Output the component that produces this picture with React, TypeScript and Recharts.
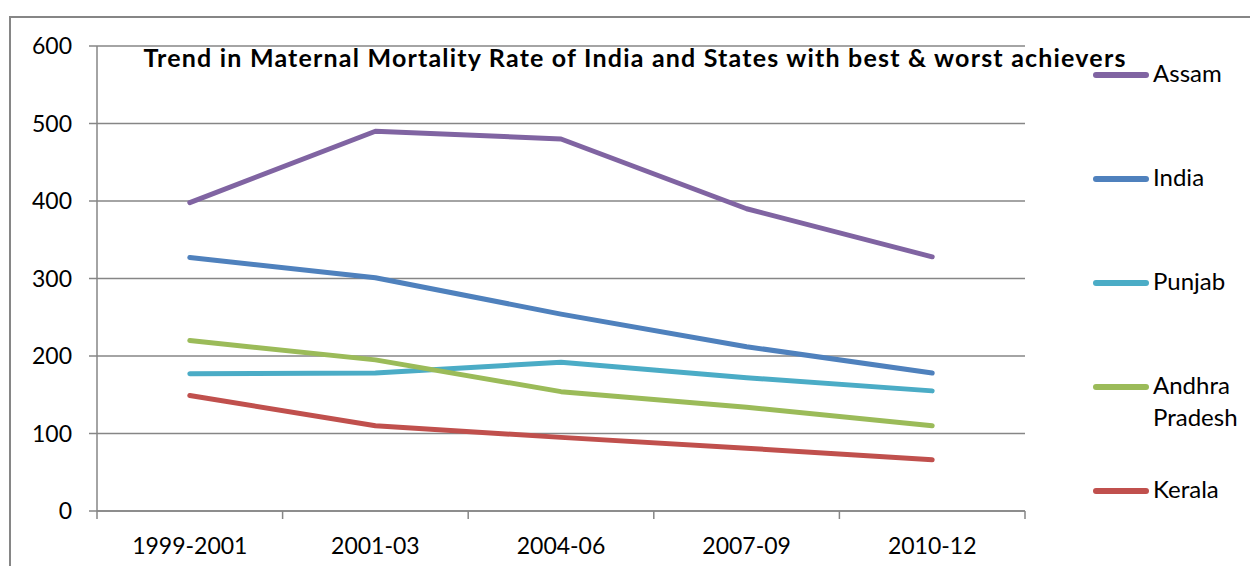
import { LineChart, Line, XAxis, YAxis, CartesianGrid } from 'recharts';

const periods = ['1999-2001', '2001-03', '2004-06', '2007-09', '2010-12'];
const assam = [398, 490, 480, 390, 328];
const india = [327, 301, 254, 212, 178];
const punjab = [177, 178, 192, 172, 155];
const andhraPradesh = [220, 195, 154, 134, 110];
const kerala = [149, 110, 95, 81, 66];
const yTicks = [0, 100, 200, 300, 400, 500, 600];

const series = [
  { key: 'Assam', values: assam, color: '#8064A2' },
  { key: 'India', values: india, color: '#4F81BD' },
  { key: 'Punjab', values: punjab, color: '#4BACC6' },
  { key: 'Andhra Pradesh', values: andhraPradesh, color: '#9BBB59' },
  { key: 'Kerala', values: kerala, color: '#C0504D' },
];

const data = periods.map((period, i) => {
  const row: Record<string, string | number> = { period };
  series.forEach((s) => {
    row[s.key] = s.values[i];
  });
  return row;
});

const FONT = 'Lato, "Open Sans", sans-serif';
const AXIS = '#868686';
const HALF = 92.8;

function XTick(props: any) {
  const { x, y, payload, index } = props;
  return (
    <g>
      <line x1={x - HALF} x2={x - HALF} y1={y} y2={y + 8} stroke={AXIS} strokeWidth={1.5} />
      {index === periods.length - 1 && (
        <line x1={x + HALF} x2={x + HALF} y1={y} y2={y + 8} stroke={AXIS} strokeWidth={1.5} />
      )}
      <text x={x} y={y + 43} textAnchor="middle" fontSize={23} fontFamily={FONT} fill="#000">
        {payload.value}
      </text>
    </g>
  );
}

function ChartLegend() {
  return (
    <div style={{ position: 'absolute', left: 1093, top: 64, width: 157, height: 480 }}>
      {series.map((s, i) => (
        <div
          key={s.key}
          style={{
            position: 'absolute',
            left: 0,
            top: i * 104,
            display: 'flex',
            alignItems: 'flex-start',
          }}
        >
          <div
            style={{
              width: 56,
              height: 6,
              borderRadius: 3,
              background: s.color,
              marginTop: 8,
            }}
          />
          <div
            style={{
              marginLeft: 4,
              width: 95,
              fontSize: 24,
              lineHeight: '32px',
              marginTop: -7,
              fontFamily: FONT,
              color: '#000',
            }}
          >
            {s.key}
          </div>
        </div>
      ))}
    </div>
  );
}

export default function App() {
  return (
    <div style={{ position: 'absolute', left: 0, top: 0, width: 1250, height: 566, overflow: 'hidden', background: '#fff' }}>
      <div
        style={{
          position: 'absolute',
          left: 9,
          top: 16,
          width: 1400,
          height: 700,
          border: `2px solid ${AXIS}`,
        }}
      />
      <div style={{ position: 'absolute', left: 0, top: 0 }}>
        <LineChart width={1250} height={566} data={data} margin={{ top: 46, right: 225, bottom: 0, left: 0 }}>
          <CartesianGrid vertical={false} stroke={AXIS} strokeWidth={1.5} />
          <XAxis
            dataKey="period"
            padding={{ left: HALF, right: HALF }}
            axisLine={{ stroke: AXIS, strokeWidth: 1.5 }}
            tickLine={false}
            tickSize={0}
            tickMargin={0}
            tick={<XTick />}
            interval={0}
            height={55}
          />
          <YAxis
            domain={[0, 600]}
            ticks={yTicks}
            width={97}
            axisLine={{ stroke: AXIS, strokeWidth: 1.5 }}
            tickLine={{ stroke: AXIS, strokeWidth: 1.5 }}
            tickSize={8}
            tickMargin={17}
            tick={{ fontSize: 23, fontFamily: FONT, fill: '#000' }}
          />
          {series.map((s) => (
            <Line
              key={s.key}
              type="linear"
              dataKey={s.key}
              stroke={s.color}
              strokeWidth={5}
              strokeLinecap="round"
              strokeLinejoin="round"
              dot={false}
              activeDot={false}
              isAnimationActive={false}
            />
          ))}
        </LineChart>
      </div>
      <ChartLegend />
      <div
        style={{
          position: 'absolute',
          left: 0,
          width: 1270,
          top: 42,
          textAlign: 'center',
          fontFamily: FONT,
          fontWeight: 'bold',
          fontSize: 25,
          letterSpacing: 1.2,
          color: '#000',
          whiteSpace: 'nowrap',
        }}
      >
        Trend in Maternal Mortality Rate of India and States with best &amp; worst achievers
      </div>
    </div>
  );
}
